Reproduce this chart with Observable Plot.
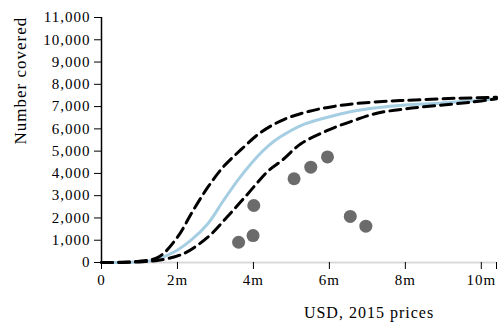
<!DOCTYPE html>
<html><head><meta charset="utf-8">
<script src="https://cdn.jsdelivr.net/npm/d3@7"></script>
<script src="https://cdn.jsdelivr.net/npm/@observablehq/plot@0.6"></script>
<style>
body{margin:0;background:#fff}
</style>
</head><body><div id="chart"></div>
<script>
// x values in millions of USD (2015 prices), y values = number covered
const xDomain = [0, 10.4];
const yDomain = [0, 11000];
const xTicks = [0, 2, 4, 6, 8, 10];
const yTicks = [0, 1000, 2000, 3000, 4000, 5000, 6000, 7000, 8000, 9000, 10000, 11000];

const centralX = [0, 0.5, 1, 1.4, 1.9, 2.35, 2.8, 3.2, 3.65, 4.1, 4.4, 4.7, 5.25, 5.95, 6.65, 7.25, 8.0, 8.9, 9.7, 10.4];
const centralY = [0, 5, 30, 120, 460, 990, 1740, 2750, 3830, 4750, 5250, 5630, 6150, 6520, 6800, 6950, 7070, 7150, 7250, 7350];

const upperX = [0, 0.5, 1, 1.5, 2.0, 2.4, 2.8, 3.2, 3.65, 4.2, 4.8, 5.45, 6.15, 6.85, 7.6, 8.25, 9.3, 10.4];
const upperY = [0, 10, 60, 240, 1140, 2300, 3380, 4280, 5030, 5850, 6420, 6780, 7020, 7160, 7250, 7300, 7370, 7420];

const lowerX = [0, 0.5, 1, 1.5, 2.15, 2.8, 3.3, 3.85, 4.4, 4.75, 5.25, 5.95, 6.65, 7.25, 8.0, 8.85, 9.75, 10.4];
const lowerY = [0, 5, 25, 100, 390, 1140, 2030, 3080, 4130, 4580, 5330, 5930, 6380, 6700, 6900, 7050, 7200, 7350];

const pointsX = [3.61, 3.99, 4.01, 5.07, 5.51, 5.95, 6.55, 6.96];
const pointsY = [910, 1210, 2560, 3760, 4280, 4740, 2070, 1630];

const yLabel = "Number covered";
const xLabel = "USD, 2015 prices";

const serif = "Liberation Serif";
const toRows = (xs, ys) => xs.map((x, i) => ({x, y: ys[i]}));
const central = toRows(centralX, centralY);
const upper = toRows(upperX, upperY);
const lower = toRows(lowerX, lowerY);
const points = toRows(pointsX, pointsY);
const xTicksAll = [...xTicks, xDomain[1]];

const chart = Plot.plot({
  width: 502,
  height: 336,
  marginLeft: 101,
  marginRight: 6,
  marginTop: 17,
  marginBottom: 74,
  style: {background: "#fff", fontFamily: serif},
  x: {domain: xDomain},
  y: {domain: yDomain},
  marks: [
    Plot.ruleY([0], {stroke: "#d9d9d9", strokeWidth: 2}),
    Plot.line(central, {x: "x", y: "y", stroke: "#a6cee3", strokeWidth: 3, curve: "catmull-rom"}),
    Plot.line(upper, {x: "x", y: "y", stroke: "#000", strokeWidth: 3, strokeDasharray: "11,6", curve: "catmull-rom"}),
    Plot.line(lower, {x: "x", y: "y", stroke: "#000", strokeWidth: 3, strokeDasharray: "11,6", curve: "catmull-rom"}),
    Plot.dot(points, {x: "x", y: "y", r: 6.5, fill: "#6b6b6b", stroke: "none"}),
    Plot.ruleX([0], {stroke: "#000", strokeWidth: 1.5}),
    Plot.axisY({ticks: yTicks, tickSize: 7, tickPadding: 4, tickFormat: d3.format(","), fontSize: 15, fontFamily: serif, label: null, stroke: "#000"}),
    Plot.axisX({ticks: xTicksAll, tickSize: 7, tickPadding: 5, fontSize: 15, fontFamily: serif, label: null, stroke: "#000",
      tickFormat: d => d === xDomain[1] ? "" : (d === 0 ? "0" : d + "m")}),
    Plot.text([yLabel], {frameAnchor: "left", rotate: -90, dx: -81, dy: 4.5, fontSize: 17, fontFamily: serif, fill: "#000"}),
    Plot.text([xLabel], {frameAnchor: "bottom", dx: 70, dy: 55, fontSize: 16, fontFamily: serif, fill: "#000"})
  ]
});
chart.querySelectorAll("text, g").forEach(t => { t.style.fontFamily = "'Liberation Serif', serif"; });
chart.querySelectorAll("text").forEach(t => { t.style.letterSpacing = "1px"; });
document.getElementById("chart").append(chart);
</script>
</body></html>
